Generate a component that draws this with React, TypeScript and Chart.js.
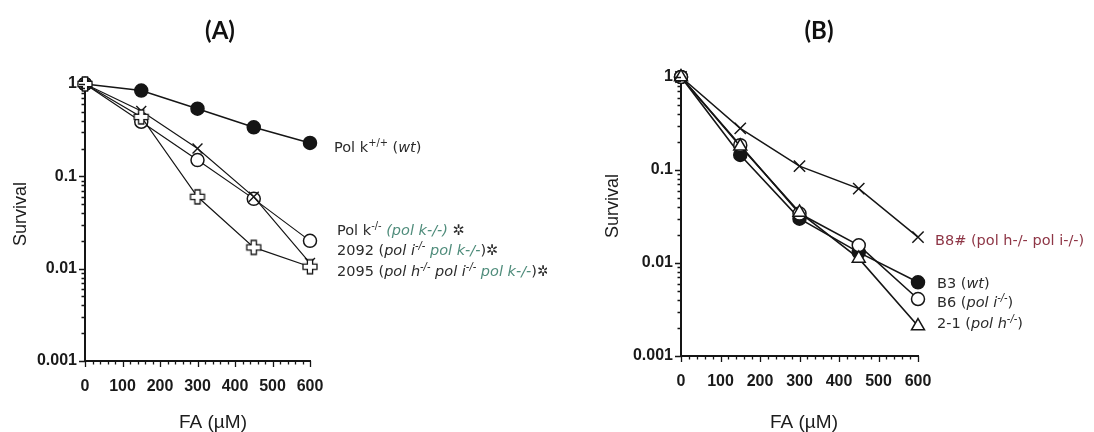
import React, { useEffect, useRef } from 'react';
import { Chart, registerables } from 'chart.js';
Chart.register(...registerables);

// ---------- data ----------
const doses = [0, 150, 300, 450, 600];
const xTickValues = [0, 100, 200, 300, 400, 500, 600];
const xMinorStep = 20;
const yTickLabels = ['1', '0.1', '0.01', '0.001'];

// Panel A
const aWt = [1, 0.85, 0.54, 0.34, 0.23];
const aPolK = [1, 0.39, 0.15, 0.057, 0.02];
const a2092 = [1, 0.51, 0.2, 0.06, 0.0115];
const a2095 = [1, 0.44, 0.06, 0.017, 0.0105];

// Panel B
const bB8 = [1, 0.28, 0.11, 0.063, 0.019];
const bB3 = [1, 0.145, 0.03, 0.013, 0.0062];
const bB6 = [1, 0.185, 0.034, 0.0155, 0.0041];
const b21 = [1, 0.18, 0.035, 0.0112, 0.0021];

const panelTitles = ['(A)', '(B)'];
const yTitle = 'Survival';
const xTitle = 'FA (µM)';

type Seg = { t: string; i?: boolean; s?: boolean; g?: boolean; r?: boolean };

const aLabels: Seg[][] = [
  [{ t: 'Pol k' }, { t: '+/+', s: true }, { t: ' (' }, { t: 'wt', i: true }, { t: ')' }],
  [{ t: 'Pol k' }, { t: '-/-', s: true }, { t: ' ' }, { t: '(pol k-/-)', g: true, i: true }, { t: ' ✲' }],
  [{ t: '2092 (' }, { t: 'pol i', i: true }, { t: '-/-', s: true, i: true }, { t: ' ' }, { t: 'pol k-/-', g: true, i: true }, { t: ')✲' }],
  [{ t: '2095 (' }, { t: 'pol h', i: true }, { t: '-/-', s: true, i: true }, { t: ' ' }, { t: 'pol i', i: true }, { t: '-/-', s: true, i: true }, { t: ' ' }, { t: 'pol k-/-', g: true, i: true }, { t: ')✲' }],
];
const bLabels: Seg[][] = [
  [{ t: 'B8# (pol h-/- pol i-/-)', r: true }],
  [{ t: 'B3 (' }, { t: 'wt', i: true }, { t: ')' }],
  [{ t: 'B6 (' }, { t: 'pol i', i: true }, { t: '-/-', s: true, i: true }, { t: ')' }],
  [{ t: '2-1 (' }, { t: 'pol h', i: true }, { t: '-/-', s: true, i: true }, { t: ')' }],
];

// ---------- styles / layout ----------
const INK = '#151515';
const TEXT = '#2b2b2b';
const GREEN = '#4f8c7b';
const RED = '#8e3646';
const SANS = '"Liberation Sans", Arial, sans-serif';
const LABEL_FONT = '"DejaVu Sans", sans-serif';
const W = 547;
const H = 432;

const layoutA = {
  yAxisWidth: 85, xAxisHeight: 71, padTop: 84, padRight: 237,
  title: [220, 31], yTitle: [21, 214], xTitle: [213, 423],
  labelPos: [[334, 152], [337, 235], [337, 255], [337, 276]], labelSize: 14.5,
};
const layoutB = {
  yAxisWidth: 134, xAxisHeight: 76, padTop: 77, padRight: 176,
  title: [272, 31], yTitle: [66, 206], xTitle: [257, 423],
  labelPos: [[388, 245], [390, 288], [390, 307], [390, 328]], labelSize: 14.5,
};

let plusImg: HTMLCanvasElement | null = null;
function getPlus() {
  if (plusImg) return plusImg;
  const c = document.createElement('canvas');
  c.width = 18; c.height = 18;
  const g = c.getContext('2d')!;
  const m = 9, a = 7, w = 2.6;
  const pts = [[m - w, m - a], [m + w, m - a], [m + w, m - w], [m + a, m - w], [m + a, m + w], [m + w, m + w], [m + w, m + a], [m - w, m + a], [m - w, m + w], [m - a, m + w], [m - a, m - w], [m - w, m - w]];
  g.beginPath();
  pts.forEach(([x, y], k) => (k ? g.lineTo(x, y) : g.moveTo(x, y)));
  g.closePath();
  g.fillStyle = '#fff';
  g.fill();
  g.strokeStyle = INK;
  g.lineWidth = 1.3;
  g.stroke();
  plusImg = c;
  return c;
}

function drawRich(ctx: CanvasRenderingContext2D, segs: Seg[], x: number, y: number, size: number) {
  let cx = x;
  ctx.textBaseline = 'alphabetic';
  ctx.textAlign = 'left';
  for (const sg of segs) {
    const fs = sg.s ? size * 0.68 : size;
    ctx.font = `${sg.i ? 'italic ' : ''}${fs}px ${LABEL_FONT}`;
    ctx.fillStyle = sg.g ? GREEN : sg.r ? RED : TEXT;
    ctx.fillText(sg.t, cx, sg.s ? y - size * 0.4 : y);
    cx += ctx.measureText(sg.t).width;
  }
}

function makeDecor(layout: any, title: string, labels: Seg[][]) {
  return {
    id: 'decor',
    afterDraw(chart: any) {
      const { ctx, chartArea } = chart;
      const xs = chart.scales.x;
      const ys = chart.scales.y;
      ctx.save();
      ctx.strokeStyle = INK;
      ctx.lineWidth = 1.3;
      ctx.beginPath();
      for (let v = xs.min; v <= xs.max; v += xMinorStep) {
        const px = Math.round(xs.getPixelForValue(v)) + 0.5;
        const len = v % 100 === 0 ? 6 : 3.5;
        ctx.moveTo(px, chartArea.bottom);
        ctx.lineTo(px, chartArea.bottom + len);
      }
      const eMin = Math.round(Math.log10(ys.min));
      const eMax = Math.round(Math.log10(ys.max));
      for (let e = eMin; e <= eMax; e++) {
        for (let m = 1; m <= 9; m++) {
          const v = m * Math.pow(10, e);
          if (v > ys.max * 1.0001) break;
          const py = Math.round(ys.getPixelForValue(v)) + 0.5;
          const len = m === 1 ? 6 : 3.5;
          ctx.moveTo(chartArea.left - len, py);
          ctx.lineTo(chartArea.left, py);
        }
      }
      ctx.stroke();

      // panel title
      ctx.fillStyle = '#111';
      ctx.textAlign = 'center';
      ctx.textBaseline = 'middle';
      ctx.font = `bold 24px Lato, "Open Sans", sans-serif`;
      ctx.fillText(title, layout.title[0], layout.title[1]);

      // axis titles
      ctx.fillStyle = '#1c1c1c';
      ctx.font = `19px ${SANS}`;
      ctx.fillText(xTitle, layout.xTitle[0], layout.xTitle[1]);
      ctx.save();
      ctx.translate(layout.yTitle[0], layout.yTitle[1]);
      ctx.rotate(-Math.PI / 2);
      ctx.font = `18px ${SANS}`;
      ctx.fillText(yTitle, 0, 0);
      ctx.restore();

      labels.forEach((segs, k) => {
        drawRich(ctx, segs, layout.labelPos[k][0], layout.labelPos[k][1], layout.labelSize);
      });
      ctx.restore();
    },
  };
}

function makeConfig(layout: any, datasets: any[], title: string, labels: Seg[][]): any {
  return {
    type: 'line',
    data: { labels: doses, datasets },
    options: {
      animation: false,
      responsive: false,
      devicePixelRatio: 1,
      layout: { padding: { top: layout.padTop, right: layout.padRight, bottom: 0, left: 0 } },
      plugins: { legend: { display: false }, tooltip: { enabled: false }, title: { display: false } },
      scales: {
        x: {
          type: 'linear',
          min: 0,
          max: 600,
          afterFit: (s: any) => { s.height = layout.xAxisHeight; },
          afterBuildTicks: (s: any) => { s.ticks = xTickValues.map((v) => ({ value: v })); },
          grid: { display: false, drawTicks: false },
          border: { display: true, color: INK, width: 2 },
          ticks: {
            autoSkip: false, maxRotation: 0, padding: 16, color: '#1a1a1a',
            font: { family: SANS, size: 16, weight: 'bold' },
          },
        },
        y: {
          type: 'logarithmic',
          min: 0.001,
          max: 1,
          afterFit: (s: any) => { s.width = layout.yAxisWidth; },
          grid: { display: false, drawTicks: false },
          border: { display: true, color: INK, width: 2 },
          ticks: {
            autoSkip: false, padding: 8, color: '#1a1a1a',
            font: { family: SANS, size: 16, weight: 'bold' },
            callback: (v: number) => {
              const l = Math.log10(v);
              return Math.abs(l - Math.round(l)) < 1e-6 ? yTickLabels[-Math.round(l)] : '';
            },
          },
        },
      },
    },
    plugins: [makeDecor(layout, title, labels)],
  };
}

function ds(data: number[], style: any, lw: number) {
  return {
    data: doses.map((x, k) => ({ x, y: data[k] })),
    borderColor: INK,
    borderWidth: lw,
    pointBorderColor: INK,
    pointBorderWidth: 1.5,
    tension: 0,
    clip: false,
    ...style,
  };
}

function Panel({ left, build }: { left: number; build: () => any }) {
  const ref = useRef<HTMLCanvasElement>(null);
  useEffect(() => {
    const chart = new Chart(ref.current!, build());
    return () => chart.destroy();
  }, []);
  return (
    <canvas ref={ref} width={W} height={H}
      style={{ position: 'absolute', left, top: 0, width: W, height: H }} />
  );
}

export default function App() {
  const buildA = () => makeConfig(layoutA, [
    ds(a2095, { pointStyle: getPlus(), pointRadius: 8 }, 1.2),
    ds(a2092, { pointStyle: 'crossRot', pointRadius: 7, pointBorderWidth: 1.4 }, 1.2),
    ds(aPolK, { pointStyle: 'circle', pointRadius: 6.5, pointBackgroundColor: '#fff' }, 1.2),
    ds(aWt, { pointStyle: 'circle', pointRadius: 6.5, pointBackgroundColor: INK }, 1.5),
  ], panelTitles[0], aLabels);
  const buildB = () => makeConfig(layoutB, [
    ds(b21, { pointStyle: 'triangle', pointRadius: 7.5, pointBackgroundColor: '#fff' }, 1.6),
    ds(bB6, { pointStyle: 'circle', pointRadius: 6.5, pointBackgroundColor: '#fff' }, 1.6),
    ds(bB3, { pointStyle: 'circle', pointRadius: 6.5, pointBackgroundColor: INK }, 1.6),
    ds(bB8, { pointStyle: 'crossRot', pointRadius: 8, pointBorderWidth: 1.5 }, 1.5),
  ], panelTitles[1], bLabels);
  return (
    <div style={{ position: 'absolute', left: 0, top: 0, width: 1094, height: 432, background: '#fff' }}>
      <Panel left={0} build={buildA} />
      <Panel left={W} build={buildB} />
    </div>
  );
}
